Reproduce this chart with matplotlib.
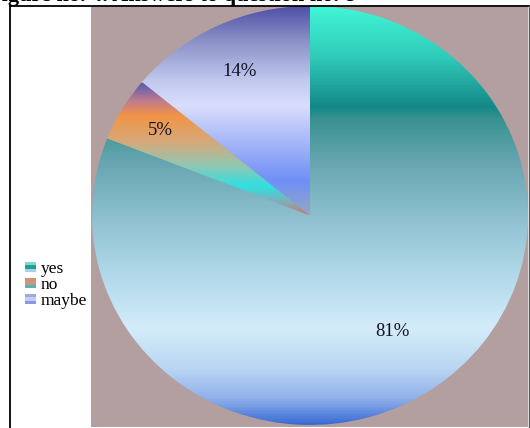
import matplotlib.pyplot as plt
import numpy as np
from matplotlib.colors import LinearSegmentedColormap
from matplotlib.legend_handler import HandlerBase
from matplotlib.patches import Rectangle
from matplotlib.lines import Line2D

# Dados
labels = ['yes', 'no', 'maybe']
values = [81, 5, 14]
title = 'Figure no. 4. Answers to question no. 8'

W, H = 530, 428
fig = plt.figure(figsize=(W / 100, H / 100), dpi=100)
fig.patch.set_facecolor('white')


def fx(px):
    return px / W


def fy(py):
    return 1 - py / H


# fundo texturizado (cor lisa)
bg = fig.add_axes([fx(91), fy(427), fx(528) - fx(91), fy(7) - fy(427)])
bg.set_facecolor('#b39f9f')
bg.set_xticks([])
bg.set_yticks([])
for s in bg.spines.values():
    s.set_visible(False)

# moldura
fig.add_artist(Line2D([fx(10), fx(529)], [fy(6), fy(6)], color='black', lw=1.3))
fig.add_artist(Line2D([fx(10), fx(10)], [fy(6), fy(428)], color='black', lw=1.3))
fig.add_artist(Line2D([fx(529), fx(529)], [fy(6), fy(428)], color='#555555', lw=1.0))

# titulo (cortado no topo, como na imagem original)
fig.text(fx(356), fy(0.8), title, ha='right', va='baseline', fontsize=16,
         fontweight='bold', family='Liberation Serif')

# pizza
ax = fig.add_axes([fx(92), fy(425), fx(528) - fx(92), fy(6) - fy(425)])
wedges, texts, autotexts = ax.pie(values, startangle=90, counterclock=False,
                                  autopct='%1.0f%%', pctdistance=0.7,
                                  wedgeprops=dict(linewidth=0),
                                  textprops=dict(family='Liberation Serif', fontsize=13.5,
                                                 color='#141428'))
ax.set_aspect('auto')

# gradientes verticais (posicao y em pixels -> cor)
grads = {
    'yes': [(6, '#40f5d6'), (55, '#30cbb9'), (105, '#138888'), (118, '#3a9292'),
            (160, '#66a6b0'), (220, '#92c2d2'), (280, '#b6dcec'), (325, '#d4ecfa'),
            (365, '#b9d6f2'), (395, '#90b0ea'), (425, '#2a5fd0')],
    'no': [(83, '#5a5cb4'), (100, '#c07a8c'), (115, '#f29446'), (140, '#d8a878'),
           (165, '#90c8b4'), (185, '#2ee0e2'), (200, '#7eb0ba'), (213, '#c47a6e')],
    'maybe': [(6, '#4e4ea6'), (40, '#8890c6'), (80, '#c0c8ee'), (105, '#dadefc'),
              (140, '#a8b8f8'), (180, '#6f8ff6'), (213, '#92a8c4')],
}


def py_to_data(py):
    return (213 - py) / 207.0


for w, lab in zip(wedges, labels):
    stops = grads[lab]
    ys = [py_to_data(p) for p, _ in stops]
    top, bot = ys[0], ys[-1]
    pos = [(top - y) / (top - bot) for y in ys]
    cmap = LinearSegmentedColormap.from_list(lab, list(zip(pos, [c for _, c in stops])))
    grad = np.linspace(0, 1, 400).reshape(-1, 1)
    im = ax.imshow(grad, cmap=cmap, extent=[-1, 1, bot, top], aspect='auto',
                   origin='upper', zorder=1)
    im.set_clip_path(w)
    w.set_facecolor('none')

ax.set_xlim(-1, 1)
ax.set_ylim(-1, 1)

# posicao dos rotulos
dists = [0.67, 0.80, 0.76]
for t, w, d in zip(autotexts, wedges, dists):
    ang = np.deg2rad((w.theta1 + w.theta2) / 2)
    t.set_position((d * np.cos(ang), d * np.sin(ang)))
    t.set_zorder(3)


# legenda com listras
class StripeHandler(HandlerBase):
    def __init__(self, colors):
        super().__init__()
        self.colors = colors

    def create_artists(self, legend, orig_handle, xdescent, ydescent, width, height,
                       fontsize, trans):
        n = len(self.colors)
        arts = []
        for i, c in enumerate(self.colors):
            r = Rectangle((-xdescent, -ydescent + height * (n - 1 - i) / n), width, height / n,
                          facecolor=c, edgecolor='none', transform=trans)
            arts.append(r)
        return arts


stripes = {
    'yes': ['#7adcd0', '#2a9a98', '#9fd8de'],
    'no': ['#d49070', '#c49a86', '#5fb0b0'],
    'maybe': ['#a0a8e0', '#c8ccf4', '#8898e6'],
}
handles = [Rectangle((0, 0), 1, 1) for _ in labels]
hmap = {h: StripeHandler(stripes[l]) for h, l in zip(handles, labels)}
fig.legend(handles, labels, handler_map=hmap, loc='upper left',
           bbox_to_anchor=(fx(13), fy(249)), frameon=False,
           prop=dict(family='Liberation Serif', size=12.5),
           handlelength=0.6, handleheight=0.5, handletextpad=0.3,
           labelspacing=0.0, borderpad=0.2)

fig.savefig('out.png', dpi=100)
